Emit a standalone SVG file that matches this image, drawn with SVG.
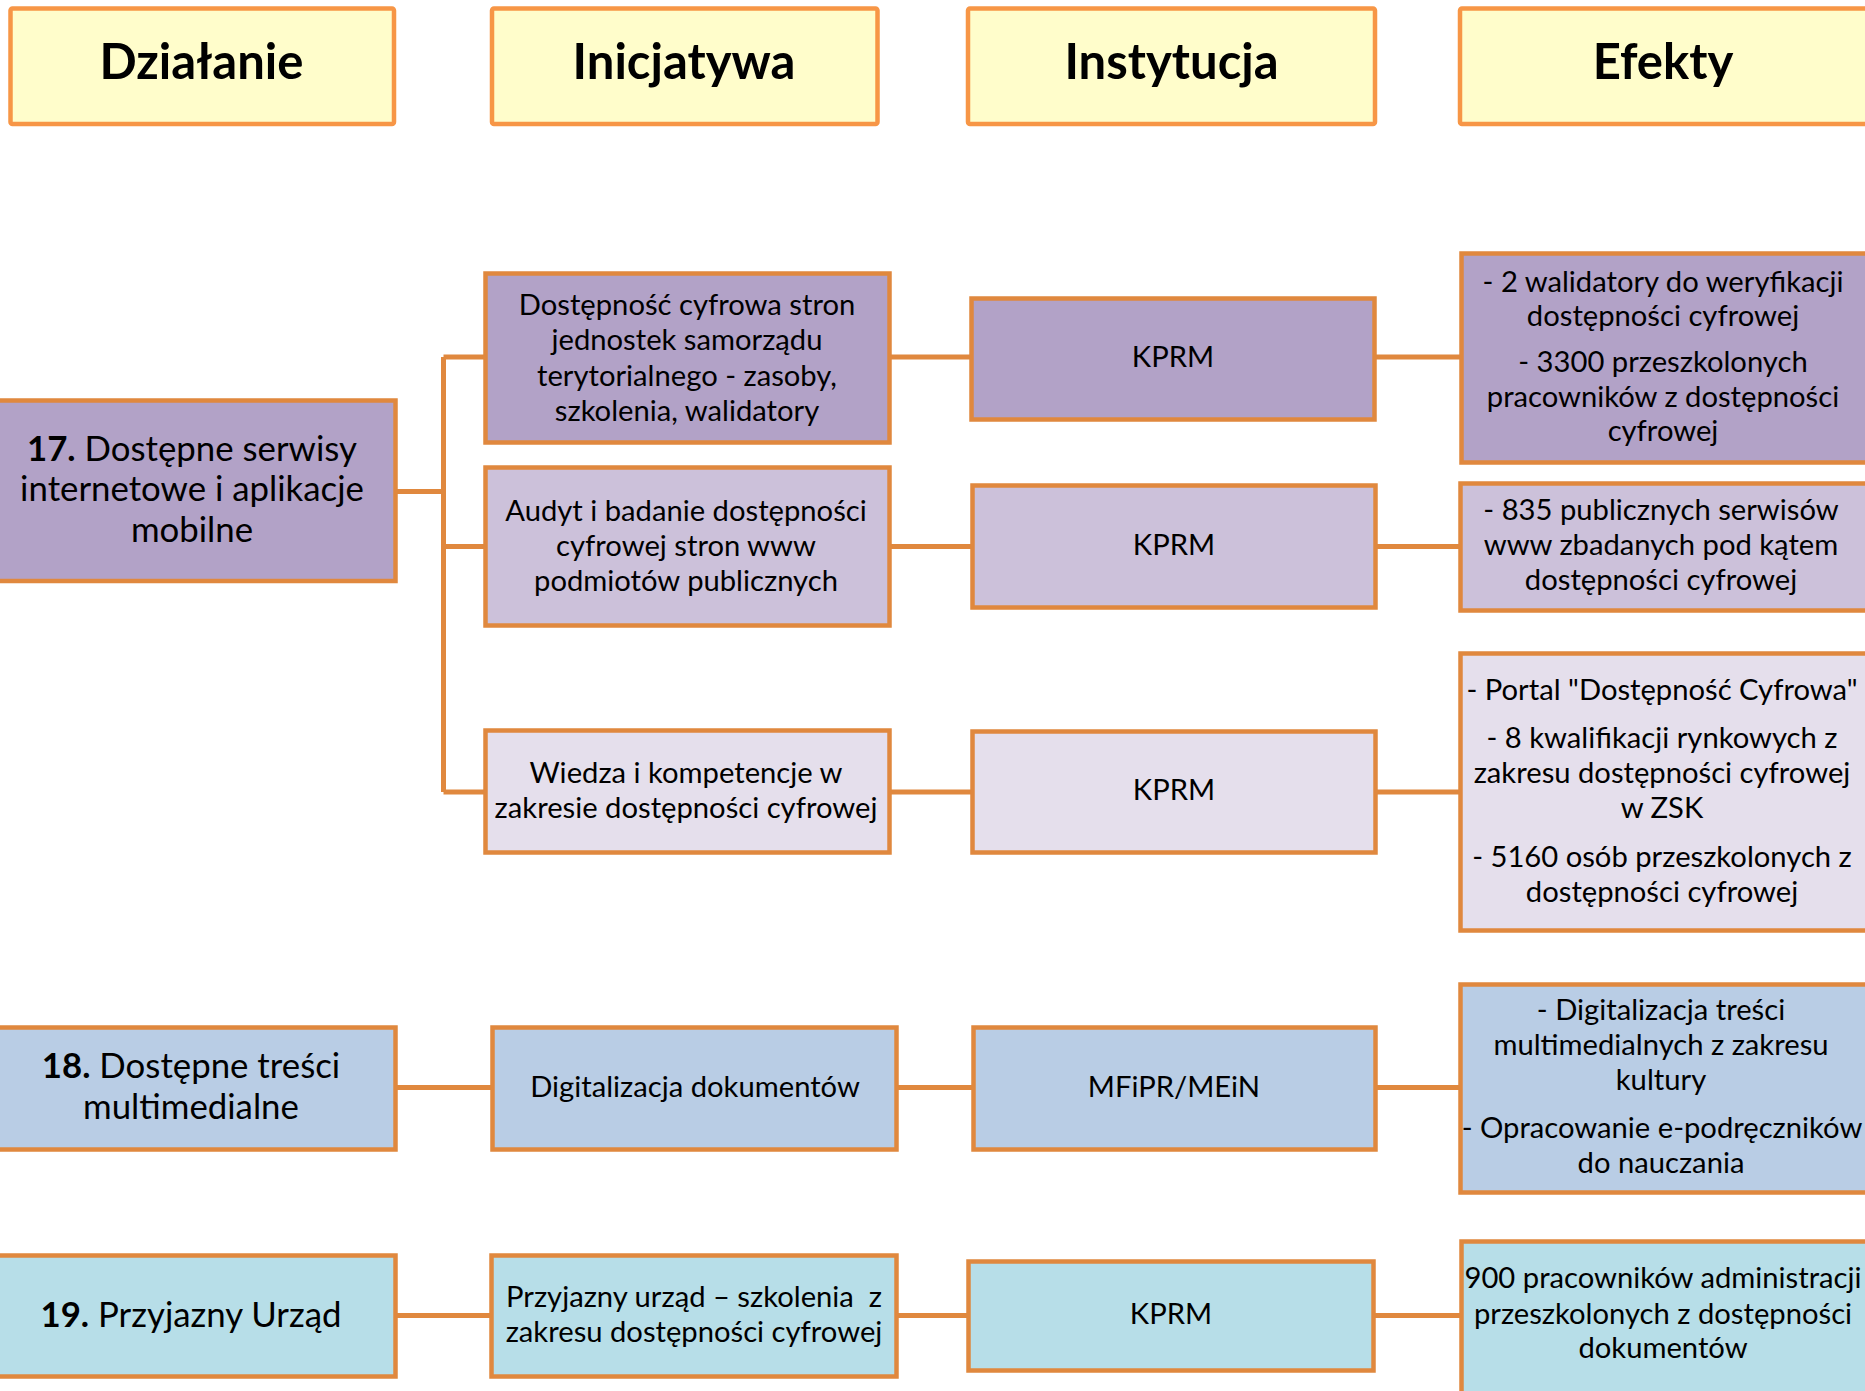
<svg xmlns="http://www.w3.org/2000/svg" width="1865" height="1391" viewBox="0 0 1865 1391">
<style>
.hd{fill:#FFFDCB;stroke:#F79646;stroke-width:4.5}
.nd{stroke:#E0883E;stroke-width:4.5}
.d1{fill:#B2A2C7}.d2{fill:#CCC1DA}.d3{fill:#E5DFEC}.b1{fill:#B9CDE5}.c1{fill:#B7DEE8}
.ht{font-family:Lato,"Open Sans",sans-serif;font-weight:bold;font-size:49px;fill:#000;text-anchor:middle}
.t{font-family:Lato,"Open Sans",sans-serif;font-size:29.2px;fill:#000;text-anchor:middle}
.at{font-family:Lato,"Open Sans",sans-serif;font-size:34.8px;fill:#000;text-anchor:middle}
.at tspan.b{font-weight:bold}
.cn{stroke:#E0883E;stroke-width:5;fill:none}
</style>
<rect width="1865" height="1391" fill="#fff"/>
<g id="connectors">
<path class="cn" d="M395 491.5H443.5M443.5 357V792M443.5 357H486M443.5 546.5H486M443.5 792H486"/>
<path class="cn" d="M890 357H972M1375 357H1462"/>
<path class="cn" d="M890 546.5H973M1376 546.5H1461"/>
<path class="cn" d="M890 792H973M1376 792H1461"/>
<path class="cn" d="M395 1087.5H493M897 1087.5H974M1376 1087.5H1461"/>
<path class="cn" d="M395 1315.5H492M897 1315.5H969M1374 1315.5H1462"/>
</g>
<g id="h-dzialanie"><rect class="hd" x="10.5" y="8.5" width="383.5" height="115.5" rx="2"/><text class="ht" x="201.5" y="79">Działanie</text></g>
<g id="h-inicjatywa"><rect class="hd" x="492" y="8.5" width="385.5" height="115.5" rx="2"/><text class="ht" x="684" y="79">Inicjatywa</text></g>
<g id="h-instytucja"><rect class="hd" x="968" y="8.5" width="407" height="115.5" rx="2"/><text class="ht" x="1171.5" y="79">Instytucja</text></g>
<g id="h-efekty"><rect class="hd" x="1460" y="8.5" width="410" height="115.5" rx="2"/><text class="ht" x="1663" y="79">Efekty</text></g>

<g id="a17"><rect class="nd d1" x="-10" y="400.5" width="405.5" height="180.5"/>
<text class="at"><tspan x="192" y="461"><tspan class="b">17.</tspan> Dostępne serwisy</tspan><tspan x="192" y="501">internetowe i aplikacje</tspan><tspan x="192" y="542">mobilne</tspan></text></g>
<g id="i17a"><rect class="nd d1" x="485.5" y="273.5" width="404" height="169"/>
<text class="t"><tspan x="687" y="315">Dostępność cyfrowa stron</tspan><tspan x="687" y="350">jednostek samorządu</tspan><tspan x="687" y="386">terytorialnego - zasoby,</tspan><tspan x="687" y="421">szkolenia, walidatory</tspan></text></g>
<g id="i17b"><rect class="nd d2" x="485.5" y="467.5" width="404" height="158"/>
<text class="t"><tspan x="686" y="521">Audyt i badanie dostępności</tspan><tspan x="686" y="556">cyfrowej stron www</tspan><tspan x="686" y="591">podmiotów publicznych</tspan></text></g>
<g id="i17c"><rect class="nd d3" x="485.5" y="730.5" width="404" height="122"/>
<text class="t"><tspan x="686" y="783">Wiedza i kompetencje w</tspan><tspan x="686" y="818">zakresie dostępności cyfrowej</tspan></text></g>
<g id="k17a"><rect class="nd d1" x="971.5" y="298.5" width="403" height="121"/><text class="t" x="1173" y="367">KPRM</text></g>
<g id="k17b"><rect class="nd d2" x="972.5" y="485.5" width="403" height="122"/><text class="t" x="1174" y="555">KPRM</text></g>
<g id="k17c"><rect class="nd d3" x="972.5" y="731.5" width="403" height="121"/><text class="t" x="1174" y="800">KPRM</text></g>
<g id="e17a"><rect class="nd d1" x="1461.5" y="253.5" width="410" height="209"/>
<text class="t"><tspan x="1663" y="292">- 2 walidatory do weryfikacji</tspan><tspan x="1663" y="326">dostępności cyfrowej</tspan><tspan x="1663" y="372">- 3300 przeszkolonych</tspan><tspan x="1663" y="407">pracowników z dostępności</tspan><tspan x="1663" y="441">cyfrowej</tspan></text></g>
<g id="e17b"><rect class="nd d2" x="1460.5" y="483.5" width="410" height="127"/>
<text class="t"><tspan x="1661" y="520">- 835 publicznych serwisów</tspan><tspan x="1661" y="555">www zbadanych pod kątem</tspan><tspan x="1661" y="590">dostępności cyfrowej</tspan></text></g>
<g id="e17c"><rect class="nd d3" x="1460.5" y="653.5" width="410" height="277"/>
<text class="t"><tspan x="1662" y="700">- Portal "Dostępność Cyfrowa"</tspan><tspan x="1662" y="748">- 8 kwalifikacji rynkowych z</tspan><tspan x="1662" y="783">zakresu dostępności cyfrowej</tspan><tspan x="1662" y="818">w ZSK</tspan><tspan x="1662" y="867">- 5160 osób przeszkolonych z</tspan><tspan x="1662" y="902">dostępności cyfrowej</tspan></text></g>

<g id="a18"><rect class="nd b1" x="-10" y="1027.5" width="405.5" height="122"/>
<text class="at"><tspan x="191" y="1078"><tspan class="b">18.</tspan> Dostępne treści</tspan><tspan x="191" y="1119">multimedialne</tspan></text></g>
<g id="i18"><rect class="nd b1" x="492.5" y="1027.5" width="404" height="122"/><text class="t" x="695" y="1097">Digitalizacja dokumentów</text></g>
<g id="k18"><rect class="nd b1" x="973.5" y="1027.5" width="402" height="122"/><text class="t" x="1174" y="1097">MFiPR/MEiN</text></g>
<g id="e18"><rect class="nd b1" x="1460.5" y="984.5" width="410" height="208"/>
<text class="t"><tspan x="1661" y="1020">- Digitalizacja treści</tspan><tspan x="1661" y="1055">multimedialnych z zakresu</tspan><tspan x="1661" y="1090">kultury</tspan><tspan x="1662" y="1138">- Opracowanie e-podręczników</tspan><tspan x="1661" y="1173">do nauczania</tspan></text></g>

<g id="a19"><rect class="nd c1" x="-10" y="1255.5" width="405.5" height="121"/>
<text class="at" x="191" y="1327"><tspan class="b">19.</tspan> Przyjazny Urząd</text></g>
<g id="i19"><rect class="nd c1" x="491.5" y="1255.5" width="405" height="121"/>
<text class="t" xml:space="preserve"><tspan x="694" y="1307">Przyjazny urząd – szkolenia  z</tspan><tspan x="694" y="1342">zakresu dostępności cyfrowej</tspan></text></g>
<g id="k19"><rect class="nd c1" x="968.5" y="1261.5" width="405" height="109"/><text class="t" x="1171" y="1324">KPRM</text></g>
<g id="e19"><rect class="nd c1" x="1461.5" y="1241.5" width="410" height="170"/>
<text class="t"><tspan x="1663" y="1288">900 pracowników administracji</tspan><tspan x="1663" y="1324">przeszkolonych z dostępności</tspan><tspan x="1663" y="1358">dokumentów</tspan></text></g>
</svg>
